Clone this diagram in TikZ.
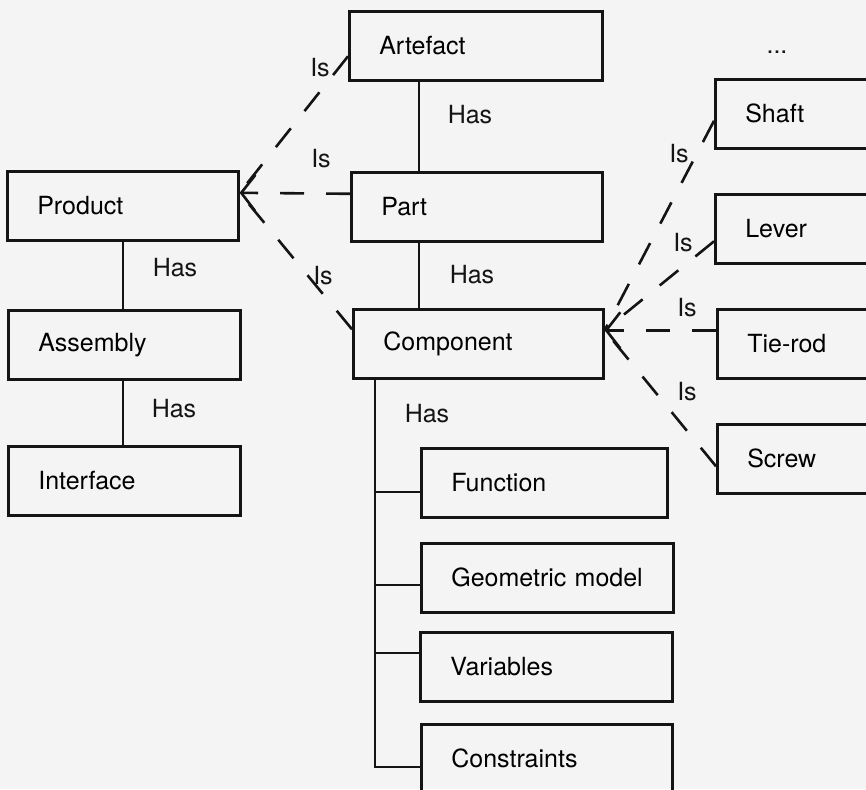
\documentclass[tikz,border=0pt]{standalone}
\usepackage{fontspec}
\setmainfont{TeX Gyre Heros}
\usetikzlibrary{arrows.meta}
\definecolor{paper}{RGB}{244,244,244}
\definecolor{ink}{RGB}{20,20,20}
\tikzset{
  box/.style={draw=ink, line width=2.6pt, anchor=north west, minimum height=69pt,
    inner xsep=30pt, inner ysep=0pt, align=left, font=\fontsize{25}{30}\selectfont},
  lbl/.style={inner sep=0pt, text=ink, font=\fontsize{25}{30}\selectfont},
  has/.style={draw=ink, line width=2.6pt},
  isa/.style={draw=ink, line width=2.6pt, dash pattern=on 24pt off 22pt},
  barb/.style={-{Straight Barb[length=14pt,width=36pt,line width=2.6pt]}}
}
\begin{document}
\begin{tikzpicture}[x=1pt,y=-1pt]
  \fill[paper] (0,0) rectangle (866,789);
  \useasboundingbox (0,0) rectangle (866,789);
  \clip (0,0) rectangle (866,789);

  % central column
  \node[box, text width=193pt] (art)  at (348,10)  {Artefact};
  \node[box, text width=191pt] (part) at (350,171) {Part};
  \node[box, text width=190pt] (comp) at (352,308) {Component};

  % left column
  \node[box, text width=171pt] (prod) at (6,170)  {Product};
  \node[box, text width=172pt] (asm)  at (7,309)  {Assembly};
  \node[box, text width=172pt] (intf) at (7,445)  {Interface};

  % right column (runs past the edge)
  \node[box, text width=160pt] (shaft) at (714,78)  {Shaft};
  \node[box, text width=160pt] (lever) at (714,193) {Lever};
  \node[box, text width=160pt] (tie)   at (716,308) {Tie-rod};
  \node[box, text width=160pt] (screw) at (716,423) {Screw};
  \node[lbl] (more) at (777,52) {...};

  % component properties
  \node[box, text width=186pt] (func) at (420,447) {Function};
  \node[box, text width=192pt] (geom) at (420,542) {Geometric model};
  \node[box, text width=192pt] (vars) at (419,631) {Variables};
  \node[box, text width=191pt] (cons) at (420,723) {Constraints};

  % "Has" links
  \draw[has] (art.south west) ++(71,0) coordinate (a1) -- (a1 |- part.north);
  \draw[has] (part.south west) ++(69,0) coordinate (p1) -- (p1 |- comp.north);
  \draw[has] (prod.south west) ++(117,0) coordinate (r1) -- (r1 |- asm.north);
  \draw[has] (asm.south west) ++(116,0) coordinate (s1) -- (s1 |- intf.north);

  % property tree below Component
  \coordinate (c1) at ([xshift=23pt]comp.south west);
  \coordinate (cf) at ([yshift=-45pt]func.north west);
  \coordinate (cg) at ([yshift=-43pt]geom.north west);
  \coordinate (cv) at ([yshift=-22pt]vars.north west);
  \coordinate (cc) at ([yshift=-44pt]cons.north west);
  \draw[has] (c1) -- (c1 |- cc) -- (cc);
  \draw[has] (cf) -- (cf -| c1);
  \draw[has] (cg) -- (cg -| c1);
  \draw[has] (cv) -- (cv -| c1);

  \node[lbl] (h1) at (470,115) {Has};
  \node[lbl] (h2) at (472,275) {Has};
  \node[lbl] (h3) at (175,268) {Has};
  \node[lbl] (h4) at (174,409) {Has};
  \node[lbl] (h5) at (427,414) {Has};

  % "Is" links towards Product
  \coordinate (ptip) at ([yshift=13pt]prod.east);
  \draw[isa] ([yshift=-10.5pt]art.west) -- (ptip);
  \draw[isa, barb] ([yshift=13pt]part.west) -- (ptip);
  \draw[isa] ([yshift=14.5pt]comp.west) -- (ptip);

  % "Is" links towards Component
  \coordinate (ctip) at ([yshift=13.5pt]comp.east);
  \draw[isa] ([yshift=-7pt]shaft.west) -- (ctip);
  \draw[isa] ([yshift=-12.5pt]lever.west) -- (ctip);
  \draw[isa, barb] ([yshift=13.5pt]tie.west) -- (ctip);
  \draw[isa] ([yshift=-7.5pt]screw.west) -- (ctip);

  \node[lbl] (i1) at (320,68)  {Is};
  \node[lbl] (i2) at (321,159) {Is};
  \node[lbl] (i3) at (323,276) {Is};
  \node[lbl] (i4) at (679,154) {Is};
  \node[lbl] (i5) at (683,243) {Is};
  \node[lbl] (i6) at (687,308) {Is};
  \node[lbl] (i7) at (687,392) {Is};
\end{tikzpicture}
\end{document}
